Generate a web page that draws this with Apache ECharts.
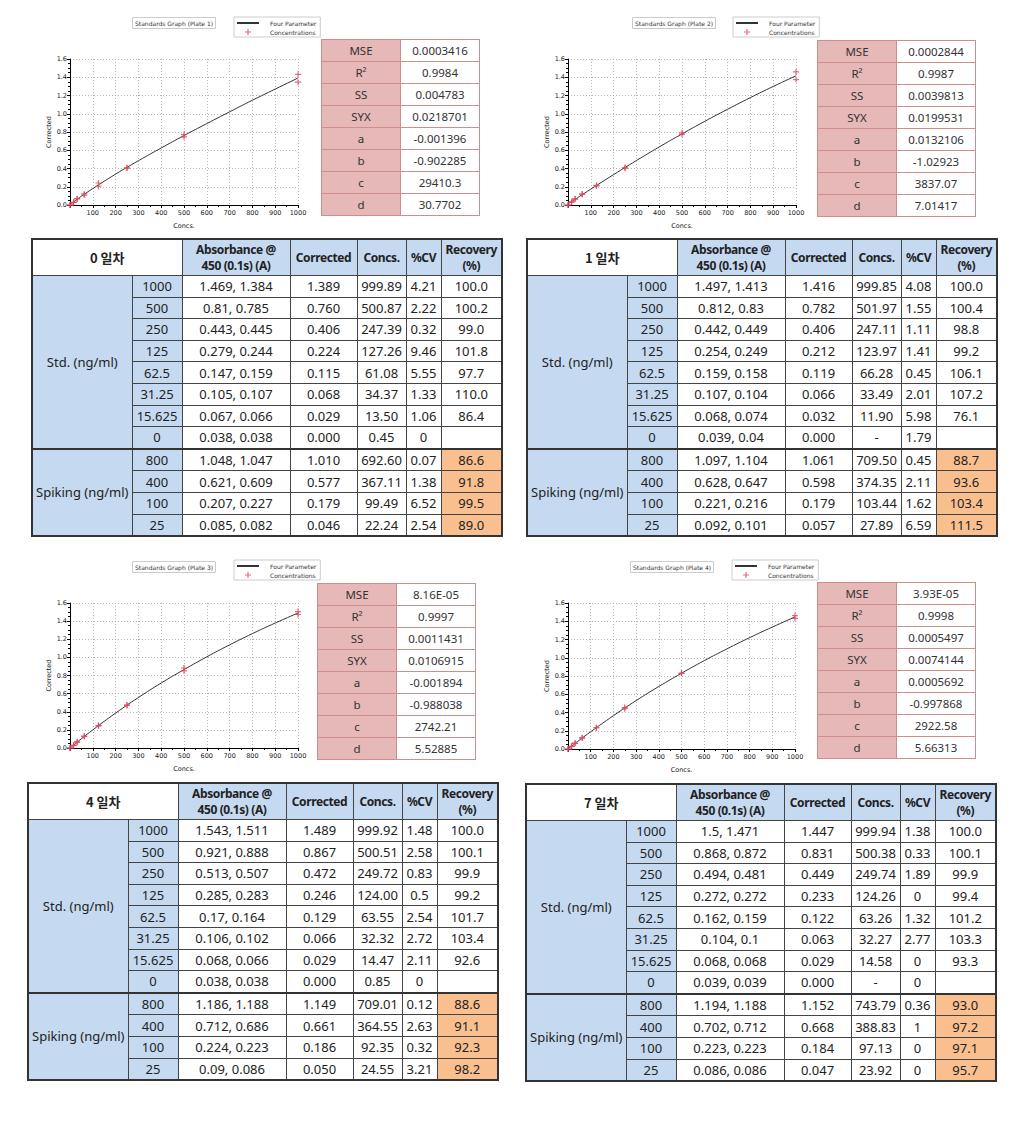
<!DOCTYPE html>
<html><head><meta charset="utf-8">
<script src="https://cdn.jsdelivr.net/npm/echarts/dist/echarts.min.js"></script>
<style>
html,body{margin:0;padding:0;background:#fff;}
#wrap{position:relative;width:1024px;height:1130px;overflow:hidden;}
#chart{position:absolute;left:0;top:0;width:1024px;height:1130px;}
table{position:absolute;border-collapse:collapse;table-layout:fixed;z-index:2;}
.pt{font-family:"Noto Sans","Noto Sans CJK KR",sans-serif;font-size:11.5px;color:#333;border:1px solid #d08d8b;}
.pt td{border:1px solid #d08d8b;height:21px;padding:0;text-align:center;}
.pt td.k{background:#e6b8b7;}
.pt td.v{background:#fff;}
.mt{font-family:"Noto Sans","Noto Sans CJK KR",sans-serif;font-size:13px;color:#222;border:2px solid #333;}
.mt td,.mt th{border:1px solid #444;padding:0;text-align:center;overflow:hidden;white-space:nowrap;}
.mt th{font-weight:bold;font-size:12px;letter-spacing:-0.4px;line-height:16px;background:#c5d9f1;height:35px;}
.mt th.day{background:#fff;font-family:"Noto Sans CJK KR",sans-serif;font-size:13px;letter-spacing:0;}
.mt td{height:20.6px;line-height:16px;background:#fff;}
.mt td.g{background:#c5d9f1;}
.mt td.o{background:#fabf8f;}
.mt tr.sep td{border-top:2px solid #333;}
</style></head>
<body><div id="wrap"><div id="chart"></div></div>
<script>
// ---------- chart data ----------
const stdX = [1000, 500, 250, 125, 62.5, 31.25, 15.625, 0];
const plate1RepA = [1.431, 0.772, 0.405, 0.241, 0.109, 0.067, 0.029, 0];
const plate1RepB = [1.346, 0.747, 0.407, 0.206, 0.121, 0.069, 0.028, 0];
const plate2RepA = [1.458, 0.773, 0.403, 0.215, 0.120, 0.068, 0.029, 0];
const plate2RepB = [1.374, 0.791, 0.410, 0.210, 0.119, 0.065, 0.035, 0];
const plate3RepA = [1.505, 0.883, 0.475, 0.247, 0.132, 0.068, 0.030, 0];
const plate3RepB = [1.473, 0.850, 0.469, 0.245, 0.126, 0.064, 0.028, 0];
const plate4RepA = [1.461, 0.829, 0.455, 0.233, 0.123, 0.065, 0.029, 0];
const plate4RepB = [1.432, 0.833, 0.442, 0.233, 0.120, 0.061, 0.029, 0];
const curveX = [0, 25, 50, 100, 200, 300, 400, 500, 600, 700, 800, 900, 1000];
const plate1Curve = [-0.001, 0.051, 0.096, 0.180, 0.338, 0.485, 0.625, 0.761, 0.892, 1.021, 1.148, 1.270, 1.392];
const plate2Curve = [0.013, 0.052, 0.093, 0.174, 0.333, 0.487, 0.636, 0.779, 0.917, 1.049, 1.177, 1.299, 1.416];
const plate3Curve = [-0.002, 0.051, 0.102, 0.200, 0.385, 0.557, 0.717, 0.865, 1.006, 1.138, 1.262, 1.379, 1.489];
const plate4Curve = [0.001, 0.049, 0.097, 0.189, 0.365, 0.530, 0.685, 0.830, 0.968, 1.097, 1.220, 1.336, 1.447];
const plateTitles = ['Standards Graph (Plate 1)', 'Standards Graph (Plate 2)', 'Standards Graph (Plate 3)', 'Standards Graph (Plate 4)'];
const xTicks = [0, 100, 200, 300, 400, 500, 600, 700, 800, 900, 1000];
const yTicks = [0, 0.2, 0.4, 0.6, 0.8, 1.0, 1.2, 1.4, 1.6];

// ---------- fit parameter tables ----------
const paramNames = ['MSE', 'R²', 'SS', 'SYX', 'a', 'b', 'c', 'd'];
const plate1Params = ['0.0003416', '0.9984', '0.004783', '0.0218701', '-0.001396', '-0.902285', '29410.3', '30.7702'];
const plate2Params = ['0.0002844', '0.9987', '0.0039813', '0.0199531', '0.0132106', '-1.02923', '3837.07', '7.01417'];
const plate3Params = ['8.16E-05', '0.9997', '0.0011431', '0.0106915', '-0.001894', '-0.988038', '2742.21', '5.52885'];
const plate4Params = ['3.93E-05', '0.9998', '0.0005497', '0.0074144', '0.0005692', '-0.997868', '2922.58', '5.66313'];

// ---------- result tables ----------
const headers = ['Absorbance @<br>450 (0.1s) (A)', 'Corrected', 'Concs.', '%CV', 'Recovery<br>(%)'];
const dayLabels = ['0 일차', '1 일차', '4 일차', '7 일차'];
const stdLabel = 'Std. (ng/ml)';
const spikeLabel = 'Spiking (ng/ml)';
const stdLevels = ['1000', '500', '250', '125', '62.5', '31.25', '15.625', '0'];
const spikeLevels = ['800', '400', '100', '25'];

const day0Abs = ['1.469, 1.384', '0.81, 0.785', '0.443, 0.445', '0.279, 0.244', '0.147, 0.159', '0.105, 0.107', '0.067, 0.066', '0.038, 0.038', '1.048, 1.047', '0.621, 0.609', '0.207, 0.227', '0.085, 0.082'];
const day0Corr = ['1.389', '0.760', '0.406', '0.224', '0.115', '0.068', '0.029', '0.000', '1.010', '0.577', '0.179', '0.046'];
const day0Conc = ['999.89', '500.87', '247.39', '127.26', '61.08', '34.37', '13.50', '0.45', '692.60', '367.11', '99.49', '22.24'];
const day0CV = ['4.21', '2.22', '0.32', '9.46', '5.55', '1.33', '1.06', '0', '0.07', '1.38', '6.52', '2.54'];
const day0Rec = ['100.0', '100.2', '99.0', '101.8', '97.7', '110.0', '86.4', '', '86.6', '91.8', '99.5', '89.0'];

const day1Abs = ['1.497, 1.413', '0.812, 0.83', '0.442, 0.449', '0.254, 0.249', '0.159, 0.158', '0.107, 0.104', '0.068, 0.074', '0.039, 0.04', '1.097, 1.104', '0.628, 0.647', '0.221, 0.216', '0.092, 0.101'];
const day1Corr = ['1.416', '0.782', '0.406', '0.212', '0.119', '0.066', '0.032', '0.000', '1.061', '0.598', '0.179', '0.057'];
const day1Conc = ['999.85', '501.97', '247.11', '123.97', '66.28', '33.49', '11.90', '-', '709.50', '374.35', '103.44', '27.89'];
const day1CV = ['4.08', '1.55', '1.11', '1.41', '0.45', '2.01', '5.98', '1.79', '0.45', '2.11', '1.62', '6.59'];
const day1Rec = ['100.0', '100.4', '98.8', '99.2', '106.1', '107.2', '76.1', '', '88.7', '93.6', '103.4', '111.5'];

const day4Abs = ['1.543, 1.511', '0.921, 0.888', '0.513, 0.507', '0.285, 0.283', '0.17, 0.164', '0.106, 0.102', '0.068, 0.066', '0.038, 0.038', '1.186, 1.188', '0.712, 0.686', '0.224, 0.223', '0.09, 0.086'];
const day4Corr = ['1.489', '0.867', '0.472', '0.246', '0.129', '0.066', '0.029', '0.000', '1.149', '0.661', '0.186', '0.050'];
const day4Conc = ['999.92', '500.51', '249.72', '124.00', '63.55', '32.32', '14.47', '0.85', '709.01', '364.55', '92.35', '24.55'];
const day4CV = ['1.48', '2.58', '0.83', '0.5', '2.54', '2.72', '2.11', '0', '0.12', '2.63', '0.32', '3.21'];
const day4Rec = ['100.0', '100.1', '99.9', '99.2', '101.7', '103.4', '92.6', '', '88.6', '91.1', '92.3', '98.2'];

const day7Abs = ['1.5, 1.471', '0.868, 0.872', '0.494, 0.481', '0.272, 0.272', '0.162, 0.159', '0.104, 0.1', '0.068, 0.068', '0.039, 0.039', '1.194, 1.188', '0.702, 0.712', '0.223, 0.223', '0.086, 0.086'];
const day7Corr = ['1.447', '0.831', '0.449', '0.233', '0.122', '0.063', '0.029', '0.000', '1.152', '0.668', '0.184', '0.047'];
const day7Conc = ['999.94', '500.38', '249.74', '124.26', '63.26', '32.27', '14.58', '-', '743.79', '388.83', '97.13', '23.92'];
const day7CV = ['1.38', '0.33', '1.89', '0', '1.32', '2.77', '0', '0', '0.36', '1', '0', '0'];
const day7Rec = ['100.0', '100.1', '99.9', '99.4', '101.2', '103.3', '93.3', '', '93.0', '97.2', '97.1', '95.7'];

// ---------- layout (positions only) ----------
const gridBoxes = [
  {left: 70, top: 59, width: 228, height: 146},
  {left: 568, top: 59, width: 228, height: 146},
  {left: 70, top: 603, width: 228, height: 145},
  {left: 568, top: 603, width: 227, height: 146}
];
const titlePos = [[132, 17], [632, 17], [132, 561], [630, 561]];
const legendPos = [[234, 17], [733, 17], [234, 560], [732, 560]];
const paramPos = [[321, 39], [817, 40], [317, 583], [817, 582]];
const tablePos = [[31, 238], [526, 238], [27, 782], [525, 783]];
const colW = [100, 50, 108, 67, 49, 35, 61];

const reps = [[plate1RepA, plate1RepB], [plate2RepA, plate2RepB], [plate3RepA, plate3RepB], [plate4RepA, plate4RepB]];
const curves = [plate1Curve, plate2Curve, plate3Curve, plate4Curve];
const params = [plate1Params, plate2Params, plate3Params, plate4Params];
const days = [
  [day0Abs, day0Corr, day0Conc, day0CV, day0Rec],
  [day1Abs, day1Corr, day1Conc, day1CV, day1Rec],
  [day4Abs, day4Corr, day4Conc, day4CV, day4Rec],
  [day7Abs, day7Corr, day7Conc, day7CV, day7Rec]
];

const starPath = 'path://M4,0h2v4h4v2h-4v4h-2v-4h-4v-2h4z';
const lblFont = {fontSize: 6.5, color: '#222', fontFamily: 'DejaVu Sans'};

const option = {
  animation: false,
  backgroundColor: '#fff',
  title: plateTitles.map((t, i) => ({
    text: t, left: titlePos[i][0], top: titlePos[i][1],
    padding: [3, 3], borderColor: '#ccc', borderWidth: 1,
    textStyle: {fontSize: 6, fontWeight: 'normal', color: '#333', fontFamily: 'DejaVu Sans'}
  })),
  legend: legendPos.map((p, i) => ({
    left: p[0], top: p[1], orient: 'vertical', itemWidth: 22, itemHeight: 6, itemGap: 3,
    padding: [3, 4, 2, 2], borderColor: '#ccc', borderWidth: 1,
    data: [
      {name: 'Four Parameter', itemStyle: {opacity: 0, borderWidth: 0}},
      {name: 'Concentrations'}
    ],
    textStyle: {fontSize: 6, color: '#333', fontFamily: 'DejaVu Sans', padding: [0, 0, 0, 6]},
    selectedMode: false
  })),
  grid: gridBoxes.map(g => Object.assign({containLabel: false}, g)),
  xAxis: gridBoxes.map((g, i) => ({
    type: 'value', gridIndex: i, min: xTicks[0], max: xTicks[xTicks.length - 1], interval: xTicks[1] - xTicks[0],
    name: 'Concs.', nameLocation: 'middle', nameGap: 17, nameTextStyle: lblFont,
    axisLine: {lineStyle: {color: '#000', width: 1}},
    axisTick: {show: true, length: 3, lineStyle: {color: '#000'}},
    minorTick: {show: true, splitNumber: 2, length: 2, lineStyle: {color: '#000'}},
    axisLabel: Object.assign({margin: 4, formatter: v => v === 0 ? '' : String(v)}, lblFont),
    splitLine: {show: true, lineStyle: {color: '#b5b5b5', type: [1, 2], width: 1}}
  })),
  yAxis: gridBoxes.map((g, i) => ({
    type: 'value', gridIndex: i, min: yTicks[0], max: yTicks[yTicks.length - 1], interval: 0.2,
    name: 'Corrected', nameLocation: 'middle', nameGap: 17, nameRotate: 90, nameTextStyle: lblFont,
    axisLine: {show: true, lineStyle: {color: '#000', width: 1}},
    axisTick: {show: true, length: 3, lineStyle: {color: '#000'}},
    minorTick: {show: true, splitNumber: 4, length: 2, lineStyle: {color: '#000'}},
    axisLabel: Object.assign({margin: 3, formatter: v => v.toFixed(1)}, lblFont),
    splitLine: {show: true, lineStyle: {color: '#b5b5b5', type: [1, 2], width: 1}}
  })),
  series: []
};
for (let i = 0; i < 4; i++) {
  option.series.push({
    name: 'Four Parameter', type: 'line', xAxisIndex: i, yAxisIndex: i, smooth: true,
    symbol: 'none', showSymbol: false, lineStyle: {color: '#333', width: 1}, itemStyle: {color: '#333'},
    data: curveX.map((x, k) => [x, curves[i][k]]), z: 2
  });
  const pts = [];
  reps[i].forEach(arr => arr.forEach((y, k) => pts.push([stdX[k], y])));
  option.series.push({
    name: 'Concentrations', type: 'scatter', xAxisIndex: i, yAxisIndex: i,
    symbol: starPath, symbolSize: 6, itemStyle: {color: '#e0465e'},
    data: pts, z: 3
  });
}
const chart = echarts.init(document.getElementById('chart'), null, {renderer: 'svg'});
chart.setOption(option);

// ---------- HTML tables ----------
const wrap = document.getElementById('wrap');
params.forEach((vals, i) => {
  const t = document.createElement('table');
  t.className = 'pt';
  t.style.left = paramPos[i][0] + 'px';
  t.style.top = paramPos[i][1] + 'px';
  t.style.width = '158px';
  let h = '<colgroup><col style="width:79px"><col style="width:79px"></colgroup>';
  paramNames.forEach((n, k) => { h += '<tr><td class="k">' + n + '</td><td class="v">' + vals[k] + '</td></tr>'; });
  t.innerHTML = h;
  wrap.appendChild(t);
});
days.forEach((d, i) => {
  const t = document.createElement('table');
  t.className = 'mt';
  t.style.left = tablePos[i][0] + 'px';
  t.style.top = tablePos[i][1] + 'px';
  t.style.width = colW.reduce((a, b) => a + b, 0) + 'px';
  let h = '<colgroup>' + colW.map(w => '<col style="width:' + w + 'px">').join('') + '</colgroup>';
  h += '<tr><th class="day" colspan="2">' + dayLabels[i] + '</th>' + headers.map(x => '<th>' + x + '</th>').join('') + '</tr>';
  const levels = stdLevels.concat(spikeLevels);
  levels.forEach((lv, r) => {
    const isSpike = r >= stdLevels.length;
    let row = '<tr' + (r === stdLevels.length ? ' class="sep"' : '') + '>';
    if (r === 0) row += '<td class="g" rowspan="' + stdLevels.length + '">' + stdLabel + '</td>';
    if (r === stdLevels.length) row += '<td class="g" rowspan="' + spikeLevels.length + '">' + spikeLabel + '</td>';
    row += '<td class="g">' + lv + '</td>';
    row += '<td>' + d[0][r] + '</td><td>' + d[1][r] + '</td><td>' + d[2][r] + '</td><td>' + d[3][r] + '</td>';
    row += '<td' + (isSpike ? ' class="o"' : '') + '>' + d[4][r] + '</td></tr>';
    h += row;
  });
  t.innerHTML = h;
  wrap.appendChild(t);
});
</script>
</body></html>
